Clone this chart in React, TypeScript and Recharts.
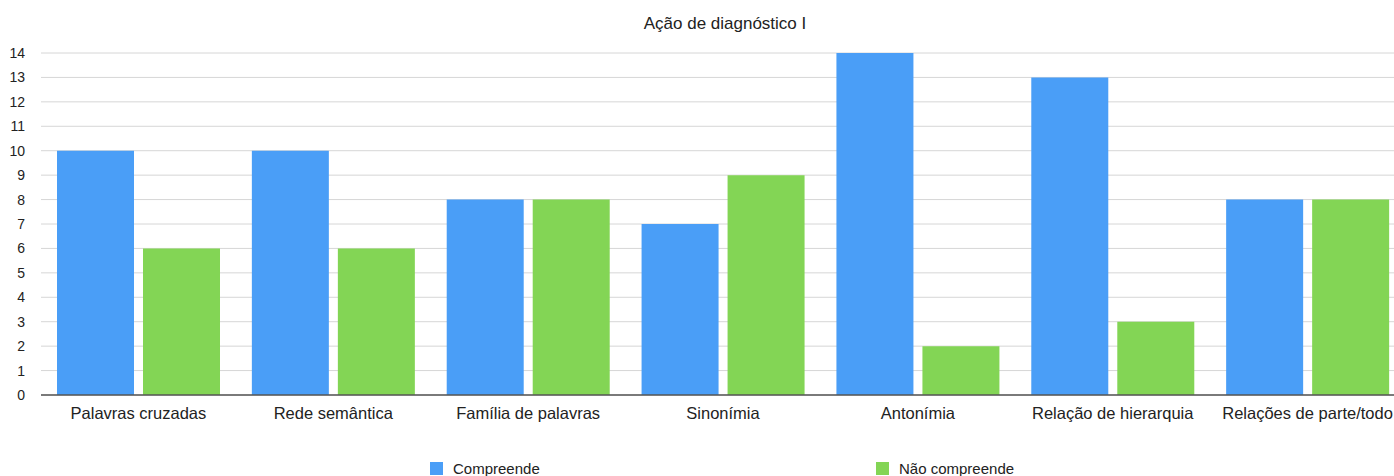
import React from "react";
import { BarChart, Bar, XAxis, YAxis, CartesianGrid } from "recharts";

const categories = [
  "Palavras cruzadas",
  "Rede semântica",
  "Família de palavras",
  "Sinonímia",
  "Antonímia",
  "Relação de hierarquia",
  "Relações de parte/todo",
];
const compreende = [10, 10, 8, 7, 14, 13, 8];
const naoCompreende = [6, 6, 8, 9, 2, 3, 8];
const yTicks = [0, 1, 2, 3, 4, 5, 6, 7, 8, 9, 10, 11, 12, 13, 14];
const seriesNames = ["Compreende", "Não compreende"];
const colors = ["#4a9ef7", "#83d555"];

const data = categories.map((c, i) => ({
  name: c,
  compreende: compreende[i],
  naoCompreende: naoCompreende[i],
}));

const font = "'Liberation Sans', Arial, Helvetica, sans-serif";

export default function App() {
  return (
    <div
      style={{
        position: "fixed",
        left: 0,
        top: 0,
        width: 1394,
        height: 476,
        overflow: "hidden",
        background: "#fff",
        fontFamily: font,
      }}
    >
      <div
        style={{
          position: "absolute",
          left: 0,
          width: 1450,
          top: 14,
          fontSize: 17,
          color: "#222",
        }}
      >
        <span style={{ position: "absolute", left: 725, transform: "translateX(-50%)", whiteSpace: "nowrap" }}>
          Ação de diagnóstico I
        </span>
      </div>
      <div style={{ position: "absolute", left: 0, top: 0 }}>
        <BarChart
          width={1420}
          height={476}
          data={data}
          margin={{ top: 53, right: 15, left: 0, bottom: 51 }}
          barCategoryGap={16}
          barGap={9}
        >
          <CartesianGrid vertical={false} stroke="#d6d6d6" strokeWidth={1} />
          <XAxis
            dataKey="name"
            height={30}
            tickLine={false}
            axisLine={{ stroke: "#555", strokeWidth: 1.5 }}
            tick={{ fontSize: 16.5, fill: "#222", fontFamily: font }}
            tickMargin={6}
            interval={0}
          />
          <YAxis
            width={41}
            domain={[0, 14]}
            ticks={yTicks}
            interval={0}
            axisLine={false}
            tickLine={false}
            tickMargin={10}
            tick={{ fontSize: 14, fill: "#222", fontFamily: font }}
          />
          <Bar dataKey="compreende" name={seriesNames[0]} fill={colors[0]} isAnimationActive={false} />
          <Bar dataKey="naoCompreende" name={seriesNames[1]} fill={colors[1]} isAnimationActive={false} />
        </BarChart>
      </div>
      {seriesNames.map((n, i) => (
        <div
          key={n}
          style={{
            position: "absolute",
            left: i === 0 ? 430 : 876,
            top: 460,
            display: "flex",
            alignItems: "center",
            fontSize: 15,
            color: "#222",
          }}
        >
          <span style={{ display: "inline-block", width: 13, height: 13, background: colors[i], marginRight: 10 }} />
          <span>{n}</span>
        </div>
      ))}
    </div>
  );
}
